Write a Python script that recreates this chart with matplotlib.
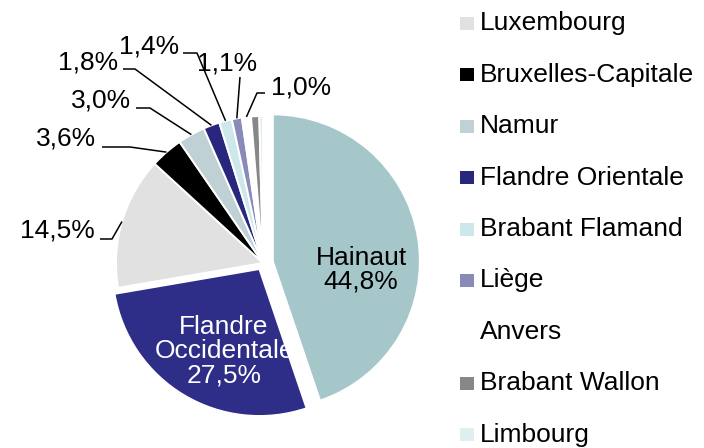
import matplotlib
matplotlib.use("Agg")
import matplotlib.pyplot as plt
from matplotlib.patches import Rectangle
import numpy as np

# provinces in pie order (clockwise from 12 o'clock)
provinces = [
    "Hainaut", "Flandre Occidentale", "Luxembourg", "Bruxelles-Capitale",
    "Namur", "Flandre Orientale", "Brabant Flamand", "Liège", "Anvers",
    "Brabant Wallon", "Limbourg",
]
shares = [44.8, 27.5, 14.5, 3.6, 3.0, 1.8, 1.4, 1.1, 1.0, 0.9, 0.4]
colors = [
    "#A6C7C9", "#2E2D87", "#E1E1E1", "#000000", "#BFD1D4", "#28277D",
    "#CDE8EB", "#8A8AB8", "#FFFFFF", "#878787", "#DFEFF0",
]
explode_px = [10, 7, 0, 0, 0, 0, 0, 0, 0, 0, 0]

W, H = 704, 448
FONT = "Liberation Sans"
FS = 19


def img(x, y):
    # image pixel coords (y down) -> data coords (y up)
    return x, H - y


def fmt(v):
    return f"{v:.1f}".replace(".", ",") + "%"


def main():
    plt.rcParams["font.family"] = [FONT, "DejaVu Sans"]
    fig = plt.figure(figsize=(W / 100, H / 100), dpi=100)
    ax = fig.add_axes([0, 0, 1, 1])

    cx, cy = img(263, 263)
    wedges, _ = ax.pie(
        shares, colors=colors, startangle=90, counterclock=False,
        center=(cx, cy), radius=147, explode=explode_px,
        wedgeprops=dict(edgecolor="white", linewidth=1.4),
        frame=True,
    )
    ax.set_xlim(0, W)
    ax.set_ylim(0, H)
    ax.set_aspect("equal")
    ax.axis("off")

    # labels inside the two big slices
    tx, ty = img(361, 270)
    ax.text(tx, ty, f"{provinces[0]}\n{fmt(shares[0])}", ha="center", va="center",
            fontsize=FS, color="black", linespacing=1.0)
    tx, ty = img(224, 351)
    ax.text(tx, ty, "Flandre\nOccidentale\n" + fmt(shares[1]), ha="center", va="center",
            fontsize=FS, color="white", linespacing=1.0)

    # outside labels: slice index -> (text centre, leader start, elbow)
    outside = {
        2: ((57, 230), (100, 239), (112, 239)),
        3: ((66, 138), (102, 147), (130, 147)),
        4: ((101, 100), (136, 108), (150, 108)),
        5: ((88, 62), (123, 69), (135, 69)),
        6: ((149, 46), (183, 53), (197, 53)),
        7: ((227, 63), (240, 77), (240, 77)),
        8: ((301, 87), (265, 93), (257, 93)),
    }
    for i, (tpos, start, elbow) in outside.items():
        w = wedges[i]
        mid = np.deg2rad((w.theta1 + w.theta2) / 2)
        px = w.center[0] + w.r * np.cos(mid)
        py = w.center[1] + w.r * np.sin(mid)
        sx, sy = img(*start)
        ex, ey = img(*elbow)
        ax.plot([sx, ex, px], [sy, ey, py], color="black", linewidth=1.1,
                solid_capstyle="butt")
        tx, ty = img(*tpos)
        ax.text(tx, ty, fmt(shares[i]), ha="center", va="center", fontsize=FS)

    # legend (first two entries sit above the visible area)
    pitch = 51.5
    y0 = 23 - 2 * pitch
    for i, (name, col) in enumerate(zip(provinces, colors)):
        yc = y0 + i * pitch
        if yc < 0:
            continue
        bx, by = img(460, yc + 6.5)
        ax.add_patch(Rectangle((bx, by), 14, 13, facecolor=col, edgecolor="none"))
        tx, ty = img(480, yc)
        ax.text(tx, ty, name, ha="left", va="center", fontsize=FS)

    fig.savefig("out.png", dpi=100)


if __name__ == "__main__":
    main()
